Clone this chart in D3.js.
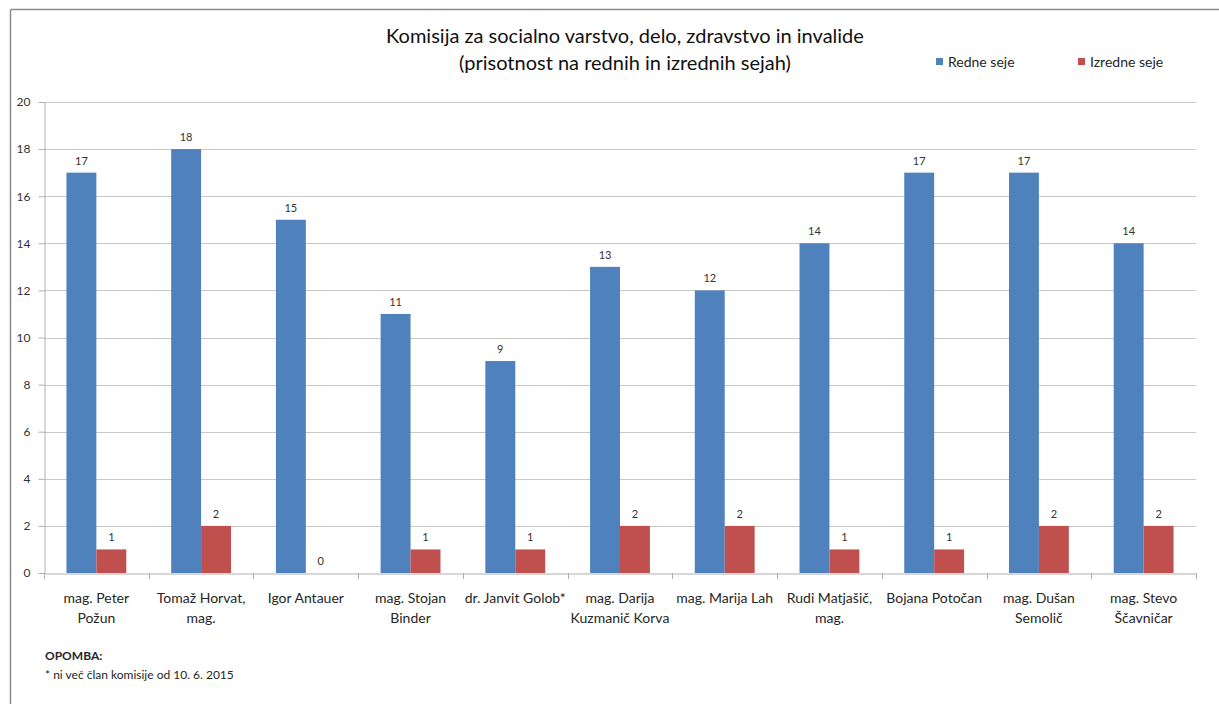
<!DOCTYPE html>
<html>
<head>
<meta charset="utf-8">
<script src="https://cdn.jsdelivr.net/npm/d3@7"></script>
<style>
  html, body { margin: 0; padding: 0; background: #fff; }
  svg { display: block; font-family: Lato, "Open Sans", sans-serif; }
</style>
</head>
<body>
<svg id="chart" width="1219" height="704"></svg>
<script>
const categories = [
  ["mag. Peter", "Požun"],
  ["Tomaž Horvat,", "mag."],
  ["Igor Antauer"],
  ["mag. Stojan", "Binder"],
  ["dr. Janvit Golob*"],
  ["mag. Darija", "Kuzmanič Korva"],
  ["mag. Marija Lah"],
  ["Rudi Matjašič,", "mag."],
  ["Bojana Potočan"],
  ["mag. Dušan", "Semolič"],
  ["mag. Stevo", "Ščavničar"]
];
const redneSeje = [17, 18, 15, 11, 9, 13, 12, 14, 17, 17, 14];
const izredneSeje = [1, 2, 0, 1, 1, 2, 2, 1, 1, 2, 2];
const seriesNames = ["Redne seje", "Izredne seje"];
const seriesColors = ["#4F81BD", "#C0504D"];
const yTicks = [0, 2, 4, 6, 8, 10, 12, 14, 16, 18, 20];
const titleLines = ["Komisija za socialno varstvo, delo, zdravstvo in invalide", "(prisotnost na rednih in izrednih sejah)"];
const noteTitle = "OPOMBA:";
const noteText = "* ni več član komisije od 10. 6. 2015";

const svg = d3.select("#chart");

// chart frame
svg.append("line").attr("x1", 10.5).attr("x2", 1219).attr("y1", 9.5).attr("y2", 9.5).attr("stroke", "#8c8c8c").attr("stroke-width", 1.5);
svg.append("line").attr("x1", 10.5).attr("x2", 10.5).attr("y1", 9.5).attr("y2", 704).attr("stroke", "#8c8c8c").attr("stroke-width", 1.5);

const plot = { left: 44, right: 1196, top: 102, bottom: 573 };
const idx = d3.range(categories.length);

const x = d3.scaleBand().domain(idx).range([plot.left, plot.right]).paddingInner(0).paddingOuter(0);
const y = d3.scaleLinear().domain([0, 20]).range([plot.bottom, plot.top]);

// bar geometry: gap width 150%
const barW = x.bandwidth() / 3.5;
const gapOff = barW * 0.75;

// gridlines
svg.append("g").selectAll("line").data(yTicks.filter(t => t > 0)).join("line")
  .attr("x1", plot.left).attr("x2", plot.right)
  .attr("y1", d => Math.round(y(d)) + 0.5).attr("y2", d => Math.round(y(d)) + 0.5)
  .attr("stroke", "#c8c8c8").attr("stroke-width", 1);

// y axis
const yAxis = svg.append("g").attr("transform", `translate(${plot.left + 0.5},0)`)
  .call(d3.axisLeft(y).tickValues(yTicks).tickSize(6).tickPadding(8).tickFormat(d3.format("d")));
yAxis.select(".domain").attr("stroke", "#b0b0b0");
yAxis.selectAll(".tick line").attr("stroke", "#b0b0b0");
yAxis.selectAll(".tick text").attr("fill", "#333").attr("font-size", 12).attr("font-family", "Lato, sans-serif");

// bars
const series = [redneSeje, izredneSeje];
series.forEach((vals, s) => {
  svg.append("g").selectAll("rect").data(vals).join("rect")
    .attr("x", (d, i) => x(i) + gapOff + s * barW)
    .attr("width", barW)
    .attr("y", d => y(d))
    .attr("height", d => y(0) - y(d))
    .attr("fill", seriesColors[s]);
  svg.append("g").selectAll("text").data(vals).join("text")
    .attr("x", (d, i) => x(i) + gapOff + s * barW + barW / 2)
    .attr("y", d => y(d) - 8)
    .attr("text-anchor", "middle")
    .attr("font-size", 11)
    .attr("fill", "#333")
    .text(d => d);
});

// x axis
const xAxis = svg.append("g").attr("transform", `translate(0,${plot.bottom + 0.5})`)
  .call(d3.axisBottom(x).tickSize(0).tickFormat(""));
xAxis.select(".domain").attr("stroke", "#b0b0b0");
// category separator ticks
svg.append("g").selectAll("line").data(d3.range(categories.length + 1)).join("line")
  .attr("x1", i => Math.round(plot.left + i * x.step()) + 0.5)
  .attr("x2", i => Math.round(plot.left + i * x.step()) + 0.5)
  .attr("y1", plot.bottom).attr("y2", plot.bottom + 6)
  .attr("stroke", "#b0b0b0");

// category labels
const labG = svg.append("g");
categories.forEach((lines, i) => {
  const t = labG.append("text")
    .attr("x", x(i) + x.bandwidth() / 2)
    .attr("y", 603)
    .attr("text-anchor", "middle")
    .attr("font-size", 14)
    .attr("fill", "#262626");
  lines.forEach((ln, k) => {
    t.append("tspan").attr("x", x(i) + x.bandwidth() / 2).attr("dy", k === 0 ? 0 : 20).text(ln);
  });
});

// title
titleLines.forEach((ln, k) => {
  svg.append("text")
    .attr("x", 625).attr("y", 43 + k * 27)
    .attr("text-anchor", "middle")
    .attr("font-size", 20)
    .attr("fill", "#111")
    .text(ln);
});

// legend
const legX = [936, 1078];
seriesNames.forEach((n, s) => {
  svg.append("rect").attr("x", legX[s]).attr("y", 58).attr("width", 7).attr("height", 7).attr("fill", seriesColors[s]);
  svg.append("text").attr("x", legX[s] + 12).attr("y", 67).attr("font-size", 14).attr("fill", "#262626").text(n);
});

// note
svg.append("text").attr("x", 45).attr("y", 660).attr("font-size", 12).attr("font-weight", "bold").attr("fill", "#262626").text(noteTitle);
svg.append("text").attr("x", 45).attr("y", 679).attr("font-size", 12).attr("fill", "#262626").text(noteText);
</script>
</body>
</html>
